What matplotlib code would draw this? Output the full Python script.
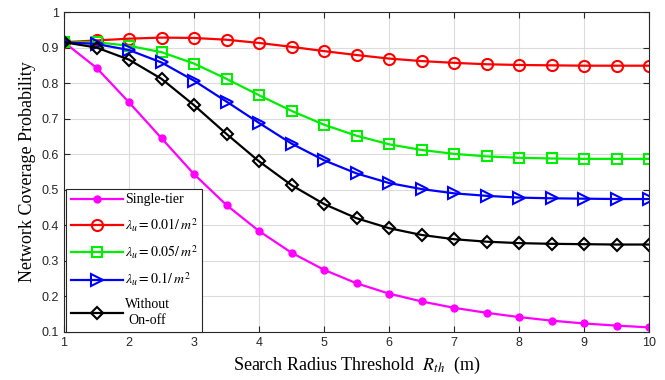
import numpy as np
import matplotlib
matplotlib.use('Agg')
import matplotlib.pyplot as plt

# Search radius threshold values (m)
r_th = [1, 1.5, 2, 2.5, 3, 3.5, 4, 4.5, 5, 5.5, 6, 6.5, 7, 7.5, 8, 8.5, 9, 9.5, 10]

single_tier = [0.915, 0.843, 0.746, 0.645, 0.544, 0.457, 0.384, 0.323, 0.275, 0.237, 0.208,
               0.186, 0.168, 0.154, 0.142, 0.132, 0.124, 0.118, 0.113]
lam_001 = [0.915, 0.920, 0.925, 0.928, 0.927, 0.922, 0.913, 0.902, 0.890, 0.879, 0.869,
           0.862, 0.857, 0.853, 0.851, 0.850, 0.849, 0.849, 0.849]
lam_005 = [0.915, 0.915, 0.905, 0.887, 0.855, 0.812, 0.766, 0.722, 0.683, 0.652, 0.628,
           0.612, 0.601, 0.594, 0.590, 0.588, 0.587, 0.587, 0.587]
lam_01 = [0.915, 0.910, 0.893, 0.858, 0.807, 0.748, 0.688, 0.630, 0.583, 0.546, 0.519,
          0.502, 0.490, 0.483, 0.478, 0.476, 0.475, 0.474, 0.474]
without_onoff = [0.915, 0.900, 0.866, 0.812, 0.738, 0.657, 0.580, 0.513, 0.460, 0.420, 0.392,
                 0.373, 0.361, 0.354, 0.350, 0.348, 0.347, 0.346, 0.346]

labels = ['Single-tier',
          r'$\lambda_u = 0.01/\,m^2$',
          r'$\lambda_u = 0.05/\,m^2$',
          r'$\lambda_u = 0.1/\,m^2$',
          'Without\nOn-off']

plt.rcParams['mathtext.fontset'] = 'stix'

fig = plt.figure(figsize=(6.65, 3.8), dpi=100)
ax = fig.add_axes([64 / 665, 1 - 332 / 380, 585 / 665, 320 / 380])

ax.plot(r_th, single_tier, '-o', color='#ff00ff', lw=1.6, ms=5, label=labels[0])
ax.plot(r_th, lam_001, '-o', color='#ff0000', lw=1.6, ms=8, mfc='none', mew=1.5, label=labels[1])
ax.plot(r_th, lam_005, '-s', color='#00ee00', lw=1.6, ms=6.5, mfc='none', mew=1.5, label=labels[2])
ax.plot(r_th, lam_01, '->', color='#0000ff', lw=1.6, ms=8, mfc='none', mew=1.5, label=labels[3])
ax.plot(r_th, without_onoff, '-D', color='black', lw=1.6, ms=6.5, mfc='none', mew=1.5, label=labels[4])

ax.set_xlim(1, 10)
ax.set_ylim(0.1, 1)
ax.set_xticks(range(1, 11))
ax.set_yticks(np.arange(0.1, 1.01, 0.1))
ax.set_yticklabels(['0.1', '0.2', '0.3', '0.4', '0.5', '0.6', '0.7', '0.8', '0.9', '1'])
ax.grid(True, color='#dcdcdc', lw=0.8)
ax.tick_params(direction='in', top=True, right=True, labelsize=9, colors='#262626',
               labelcolor='#262626', length=4)
for t in ax.get_xticklabels() + ax.get_yticklabels():
    t.set_family('Liberation Sans')
for s in ax.spines.values():
    s.set_color('#262626')

ax.set_xlabel(r'Search Radius Threshold  $R_{th}$  (m)', fontsize=13, family='Liberation Serif')
ax.set_ylabel('Network Coverage Probability', fontsize=13, family='Liberation Serif')

leg = ax.legend(loc='lower left', bbox_to_anchor=(0.003, 0.0),
                prop={'family': 'Liberation Serif', 'size': 10}, fancybox=False,
                edgecolor='#262626', framealpha=1, handlelength=3.8, borderaxespad=0,
                labelspacing=0.7, handletextpad=0.1, borderpad=0.35)
leg.get_frame().set_linewidth(0.8)
leg.get_texts()[4].set_multialignment('center')
leg.get_texts()[4].set_linespacing(1.3)

fig.savefig('out.png', dpi=100)
